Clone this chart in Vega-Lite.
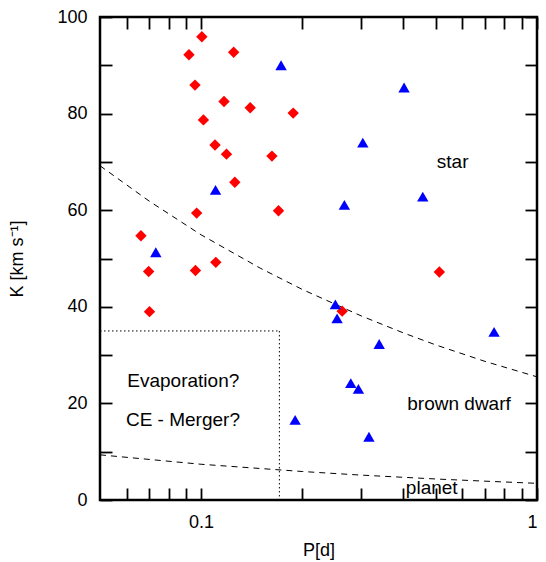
{
  "$schema": "https://vega.github.io/schema/vega-lite/v6.json",
  "width": 437,
  "height": 483,
  "autosize": "none",
  "padding": {"left": 100, "top": 17, "right": 9, "bottom": 62},
  "background": "white",
  "config": {
    "view": {"stroke": "black", "strokeWidth": 2.5},
    "font": "Liberation Sans",
    "axis": {
      "domain": false,
      "grid": false,
      "tickColor": "black",
      "tickWidth": 1.8,
      "tickSize": -12,
      "labelFont": "Liberation Sans",
      "labelFontSize": 18,
      "labelColor": "black",
      "titleFont": "Liberation Sans",
      "titleFontSize": 18,
      "titleFontWeight": "normal",
      "titleColor": "black"
    }
  },
  "datasets": {
    "points": [
      {"P": 0.1005, "K": 95.9, "set": "s1"},
      {"P": 0.092, "K": 92.2, "set": "s1"},
      {"P": 0.125, "K": 92.7, "set": "s1"},
      {"P": 0.0959, "K": 85.9, "set": "s1"},
      {"P": 0.117, "K": 82.5, "set": "s1"},
      {"P": 0.14, "K": 81.2, "set": "s1"},
      {"P": 0.188, "K": 80.1, "set": "s1"},
      {"P": 0.1016, "K": 78.7, "set": "s1"},
      {"P": 0.11, "K": 73.5, "set": "s1"},
      {"P": 0.119, "K": 71.6, "set": "s1"},
      {"P": 0.1625, "K": 71.2, "set": "s1"},
      {"P": 0.126, "K": 65.8, "set": "s1"},
      {"P": 0.097, "K": 59.4, "set": "s1"},
      {"P": 0.17, "K": 59.9, "set": "s1"},
      {"P": 0.0662, "K": 54.7, "set": "s1"},
      {"P": 0.0698, "K": 47.3, "set": "s1"},
      {"P": 0.0962, "K": 47.5, "set": "s1"},
      {"P": 0.1106, "K": 49.2, "set": "s1"},
      {"P": 0.0702, "K": 39.0, "set": "s1"},
      {"P": 0.263, "K": 39.1, "set": "s1"},
      {"P": 0.512, "K": 47.2, "set": "s1"},
      {"P": 0.173, "K": 90.0, "set": "s2"},
      {"P": 0.402, "K": 85.4, "set": "s2"},
      {"P": 0.303, "K": 74.0, "set": "s2"},
      {"P": 0.1104, "K": 64.2, "set": "s2"},
      {"P": 0.457, "K": 62.8, "set": "s2"},
      {"P": 0.267, "K": 61.1, "set": "s2"},
      {"P": 0.0733, "K": 51.3, "set": "s2"},
      {"P": 0.251, "K": 40.5, "set": "s2"},
      {"P": 0.254, "K": 37.6, "set": "s2"},
      {"P": 0.339, "K": 32.3, "set": "s2"},
      {"P": 0.745, "K": 34.8, "set": "s2"},
      {"P": 0.279, "K": 24.2, "set": "s2"},
      {"P": 0.294, "K": 23.0, "set": "s2"},
      {"P": 0.1905, "K": 16.6, "set": "s2"},
      {"P": 0.316, "K": 13.1, "set": "s2"}
    ],
    "curves": [
      {"P": 0.05, "K": 69.2, "curve": "star"},
      {"P": 0.07, "K": 61.9, "curve": "star"},
      {"P": 0.1, "K": 54.9, "curve": "star"},
      {"P": 0.15, "K": 48.0, "curve": "star"},
      {"P": 0.2, "K": 43.6, "curve": "star"},
      {"P": 0.3, "K": 38.1, "curve": "star"},
      {"P": 0.4, "K": 34.6, "curve": "star"},
      {"P": 0.5, "K": 32.1, "curve": "star"},
      {"P": 0.7, "K": 28.7, "curve": "star"},
      {"P": 1.0, "K": 25.5, "curve": "star"},
      {"P": 0.05, "K": 9.35, "curve": "planet"},
      {"P": 0.1, "K": 7.4, "curve": "planet"},
      {"P": 0.2, "K": 5.9, "curve": "planet"},
      {"P": 0.3, "K": 5.15, "curve": "planet"},
      {"P": 0.5, "K": 4.35, "curve": "planet"},
      {"P": 0.7, "K": 3.9, "curve": "planet"},
      {"P": 1.0, "K": 3.45, "curve": "planet"}
    ],
    "box": [
      {"P": 0.05, "K": 35, "seg": "h"},
      {"P": 0.171, "K": 35, "seg": "h"},
      {"P": 0.171, "K": 35, "seg": "v"},
      {"P": 0.171, "K": 0, "seg": "v"}
    ],
    "labels": [
      {"P": 0.561, "K": 69.9, "text": "star"},
      {"P": 0.586, "K": 19.9, "text": "brown dwarf"},
      {"P": 0.486, "K": 2.4, "text": "planet"},
      {"P": 0.0885, "K": 24.7, "text": "Evaporation?"},
      {"P": 0.0883, "K": 16.6, "text": "CE - Merger?"}
    ]
  },
  "resolve": {"axis": {"x": "independent", "y": "independent"}},
  "layer": [
    {
      "data": {"name": "curves"},
      "mark": {"type": "line", "color": "black", "strokeWidth": 1, "strokeDash": [6, 5]},
      "encoding": {
        "x": {"field": "P", "type": "quantitative", "scale": {"type": "log", "domain": [0.05, 1], "nice": false},
          "axis": {"orient": "top", "values": [0.06, 0.07, 0.08, 0.09, 0.1, 0.2, 0.3, 0.4, 0.5, 0.6, 0.7, 0.8, 0.9, 1],
            "labels": false, "title": null,
            "encode": {"ticks": {"update": {"y2": {"signal": "(datum.value == 0.1 || datum.value == 1) ? 12 : 6"}}}}}},
        "y": {"field": "K", "type": "quantitative", "scale": {"domain": [0, 100], "nice": false},
          "axis": {"orient": "right", "values": [0, 10, 20, 30, 40, 50, 60, 70, 80, 90, 100],
            "labels": false, "title": null,
            "encode": {"ticks": {"update": {"x2": {"signal": "(datum.value % 20 == 0) ? -12 : -6"}}}}}},
        "detail": {"field": "curve"}
      }
    },
    {
      "data": {"name": "box"},
      "mark": {"type": "line", "color": "black", "strokeWidth": 1, "strokeDash": [1.5, 2.5]},
      "encoding": {
        "x": {"field": "P", "type": "quantitative", "axis": null},
        "y": {"field": "K", "type": "quantitative", "axis": null},
        "detail": {"field": "seg"}
      }
    },
    {
      "data": {"name": "points"},
      "mark": {"type": "point", "filled": true, "opacity": 1, "size": 130},
      "encoding": {
        "x": {"field": "P", "type": "quantitative",
          "axis": {"orient": "bottom", "values": [0.06, 0.07, 0.08, 0.09, 0.1, 0.2, 0.3, 0.4, 0.5, 0.6, 0.7, 0.8, 0.9, 1],
            "labelExpr": "datum.value == 0.1 ? '0.1' : (datum.value == 1 ? '1' : '')",
            "labelPadding": 25, "title": "P[d]", "titlePadding": 10,
            "encode": {"ticks": {"update": {"y2": {"signal": "(datum.value == 0.1 || datum.value == 1) ? -12 : -6"}}}}}},
        "y": {"field": "K", "type": "quantitative",
          "axis": {"orient": "left", "values": [0, 10, 20, 30, 40, 50, 60, 70, 80, 90, 100],
            "labelExpr": "datum.value % 20 == 0 ? datum.label : ''",
            "labelPadding": 25, "title": "K [km s⁻¹]", "titlePadding": 30,
            "encode": {"ticks": {"update": {"x2": {"signal": "(datum.value % 20 == 0) ? 12 : 6"}}}}}},
        "shape": {"field": "set", "type": "nominal", "scale": {"domain": ["s1", "s2"], "range": ["diamond", "triangle-up"]}, "legend": null},
        "color": {"field": "set", "type": "nominal", "scale": {"domain": ["s1", "s2"], "range": ["#ff0000", "#0000ff"]}, "legend": null}
      }
    },
    {
      "data": {"name": "labels"},
      "mark": {"type": "text", "font": "Liberation Sans", "fontSize": 19, "color": "black", "align": "center", "baseline": "middle"},
      "encoding": {
        "x": {"field": "P", "type": "quantitative", "axis": null},
        "y": {"field": "K", "type": "quantitative", "axis": null},
        "text": {"field": "text"}
      }
    }
  ]
}
